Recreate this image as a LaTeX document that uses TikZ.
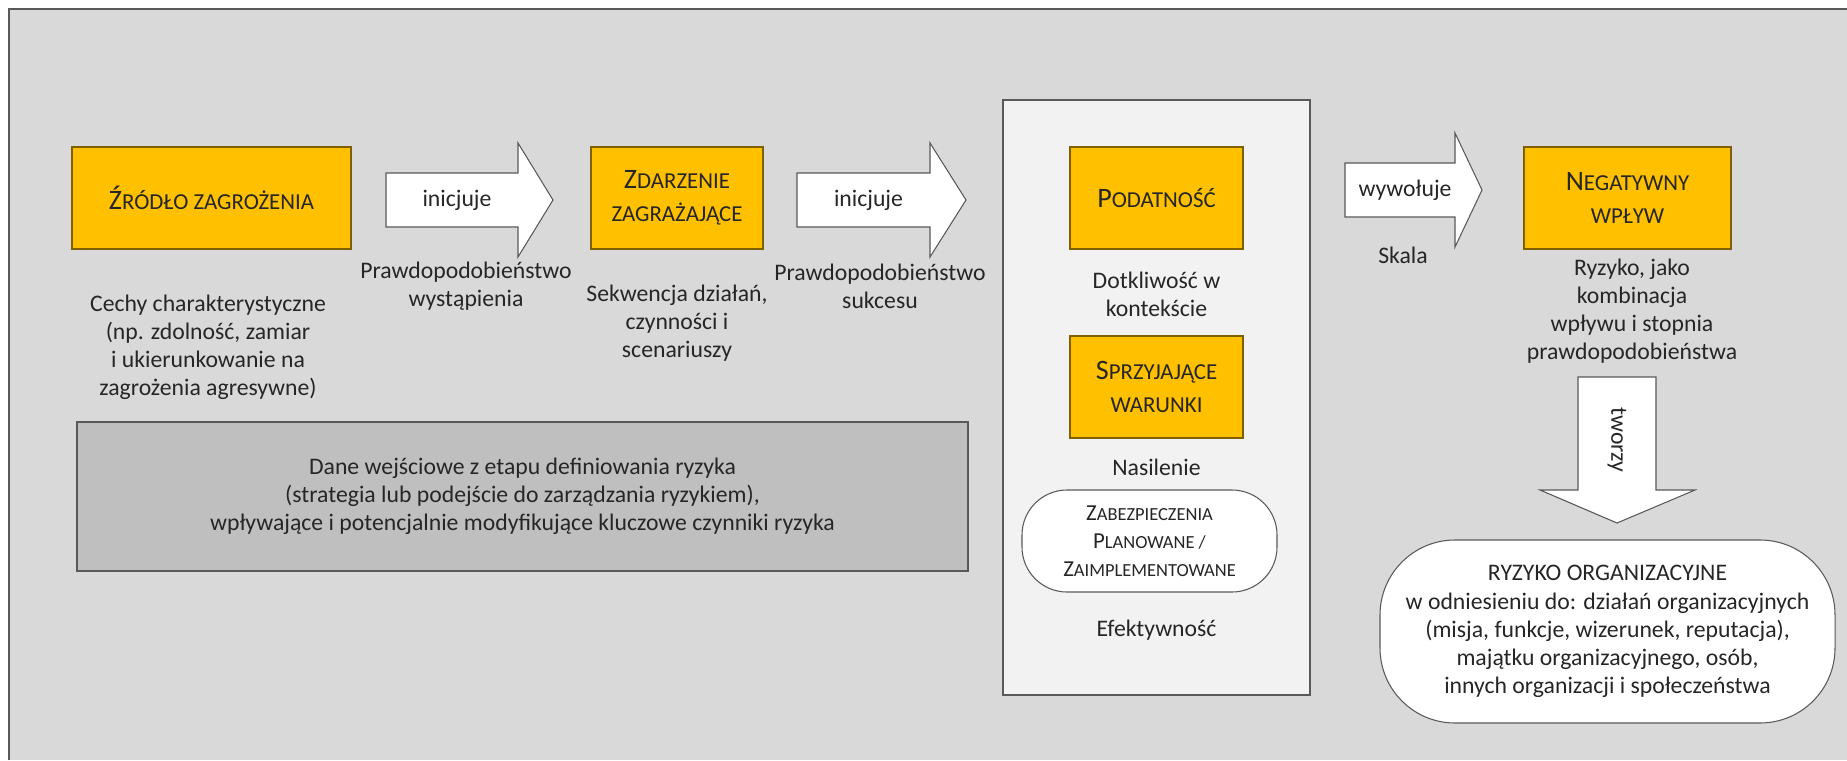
\documentclass[tikz,border=0pt]{standalone}
\usepackage{fontspec}
\setmainfont{Carlito}
\usetikzlibrary{positioning}

\definecolor{bggray}{HTML}{D9D9D9}
\definecolor{panelgray}{HTML}{F2F2F2}
\definecolor{inputgray}{HTML}{BFBFBF}
\definecolor{riskorange}{HTML}{FFC000}
\definecolor{edgegray}{HTML}{595959}
\definecolor{boxedge}{HTML}{7F6000}
\definecolor{txtdark}{HTML}{262626}

% first letter full size, the rest as small capitals
\newcommand{\fakesc}[3][13pt]{#2{\fontsize{#1}{#1}\selectfont #3}}

\begin{document}
\begin{tikzpicture}[x=0.2mm, y=-0.2mm,
  riskbox/.style={draw=boxedge, fill=riskorange, line width=0.6pt, align=center,
    minimum height=20.4mm, text=txtdark, font=\fontsize{16pt}{18.5pt}\selectfont},
  note/.style={align=center, text=txtdark, font=\fontsize{13.5pt}{16pt}\selectfont},
  bigarrow/.style={draw=edgegray, fill=white, line width=0.6pt, line join=miter},
  roundbox/.style={draw=edgegray, fill=white, line width=0.6pt, align=center, text=txtdark}
]
  \useasboundingbox (0,0) rectangle (1847,760);
  % background frame
  \fill[white] (0,0) rectangle (1847,760);
  \fill[bggray] (9,9) rectangle (1847,760);
  \draw[edgegray, line width=1.2pt] (9,760) -- (9,9) -- (1847,9);

  % panels
  \node[draw=edgegray, fill=panelgray, line width=0.8pt, inner sep=0pt,
    minimum width=61.4mm, minimum height=119mm] (panel) at (1156.5,397.5) {};
  \node[draw=edgegray, fill=inputgray, line width=0.6pt, note,
    minimum width=178.2mm, minimum height=29.8mm] (input) at (522.5,496.5)
    {Dane wejściowe z etapu definiowania ryzyka\\
     (strategia lub podejście do zarządzania ryzykiem),\\
     wpływające i potencjalnie modyfikujące kluczowe czynniki ryzyka};

  % main factors
  \node[riskbox, minimum width=55.8mm] (source) at (211.5,198) {\fakesc{Ź}{RÓDŁO ZAGROŻENIA}};
  \node[riskbox, minimum width=34.4mm] (event) at (677,198) {\fakesc{Z}{DARZENIE}\\\fakesc{}{ZAGRAŻAJĄCE}};
  \node[riskbox, minimum width=34.6mm] (vuln) at (1156.5,198) {\fakesc{P}{ODATNOŚĆ}};
  \node[riskbox, minimum width=34.6mm] (cond) at (1156.5,387) {\fakesc{S}{PRZYJAJĄCE}\\\fakesc{}{WARUNKI}};
  \node[riskbox, minimum width=41.4mm] (impact) at (1627.5,198) {\fakesc{N}{EGATYWNY}\\\fakesc{}{WPŁYW}};

  % block arrows
  \foreach \xa/\xb/\xc/\ym/\name/\txt in {386/518/553/200/initA/inicjuje,
      797/930/966/200/initB/inicjuje, 1345/1455/1482/190/cause/wywołuje} {
    \draw[bigarrow] (\xa,\ym-27) -- (\xb,\ym-27) -- (\xb,\ym-57) -- (\xc,\ym)
      -- (\xb,\ym+57) -- (\xb,\ym+27) -- (\xa,\ym+27) -- cycle;
    \node[note] (\name) at ({(\xa+\xb)/2+5},\ym) {\txt};
  }
  \draw[bigarrow] (1578,377) -- (1656,377) -- (1656,490) -- (1695,490)
    -- (1617,523) -- (1540,490) -- (1578,490) -- cycle;
  \node[note, rotate=-90] (creates) at (1617,440) {tworzy};

  % descriptions
  \node[note] (traits) at (208,347) {Cechy charakterystyczne\\(np. zdolność, zamiar\\i ukierunkowanie na\\zagrożenia agresywne)};
  \node[note] (probA) at (466,286) {Prawdopodobieństwo\\wystąpienia};
  \node[note] (steps) at (677,323) {Sekwencja działań,\\czynności i\\scenariuszy};
  \node[note] (probB) at (880,286) {Prawdopodobieństwo\\sukcesu};
  \node[note] (severity) at (1156.5,294) {Dotkliwość w\\kontekście};
  \node[note] (intensity) at (1156.5,467) {Nasilenie};
  \node[roundbox, minimum width=51mm, minimum height=20.4mm, rounded corners=9mm,
    font=\fontsize{13pt}{16pt}\selectfont] (controls) at (1149.5,541)
    {\fakesc[10.5pt]{Z}{ABEZPIECZENIA}\\\fakesc[10.5pt]{P}{LANOWANE /}\\\fakesc[10.5pt]{Z}{AIMPLEMENTOWANE}};
  \node[note] (effect) at (1156.5,630) {Efektywność};
  \node[note] (scale) at (1403,255) {Skala};
  \node[note] (combo) at (1632,311) {Ryzyko, jako\\kombinacja\\wpływu i stopnia\\prawdopodobieństwa};
  \node[roundbox, note, minimum width=91mm, minimum height=36.6mm, rounded corners=15mm]
    (orgrisk) at (1607.5,631.5)
    {RYZYKO ORGANIZACYJNE\\w odniesieniu do: działań organizacyjnych\\(misja, funkcje, wizerunek, reputacja),\\majątku organizacyjnego, osób,\\innych organizacji i społeczeństwa};
\end{tikzpicture}
\end{document}
